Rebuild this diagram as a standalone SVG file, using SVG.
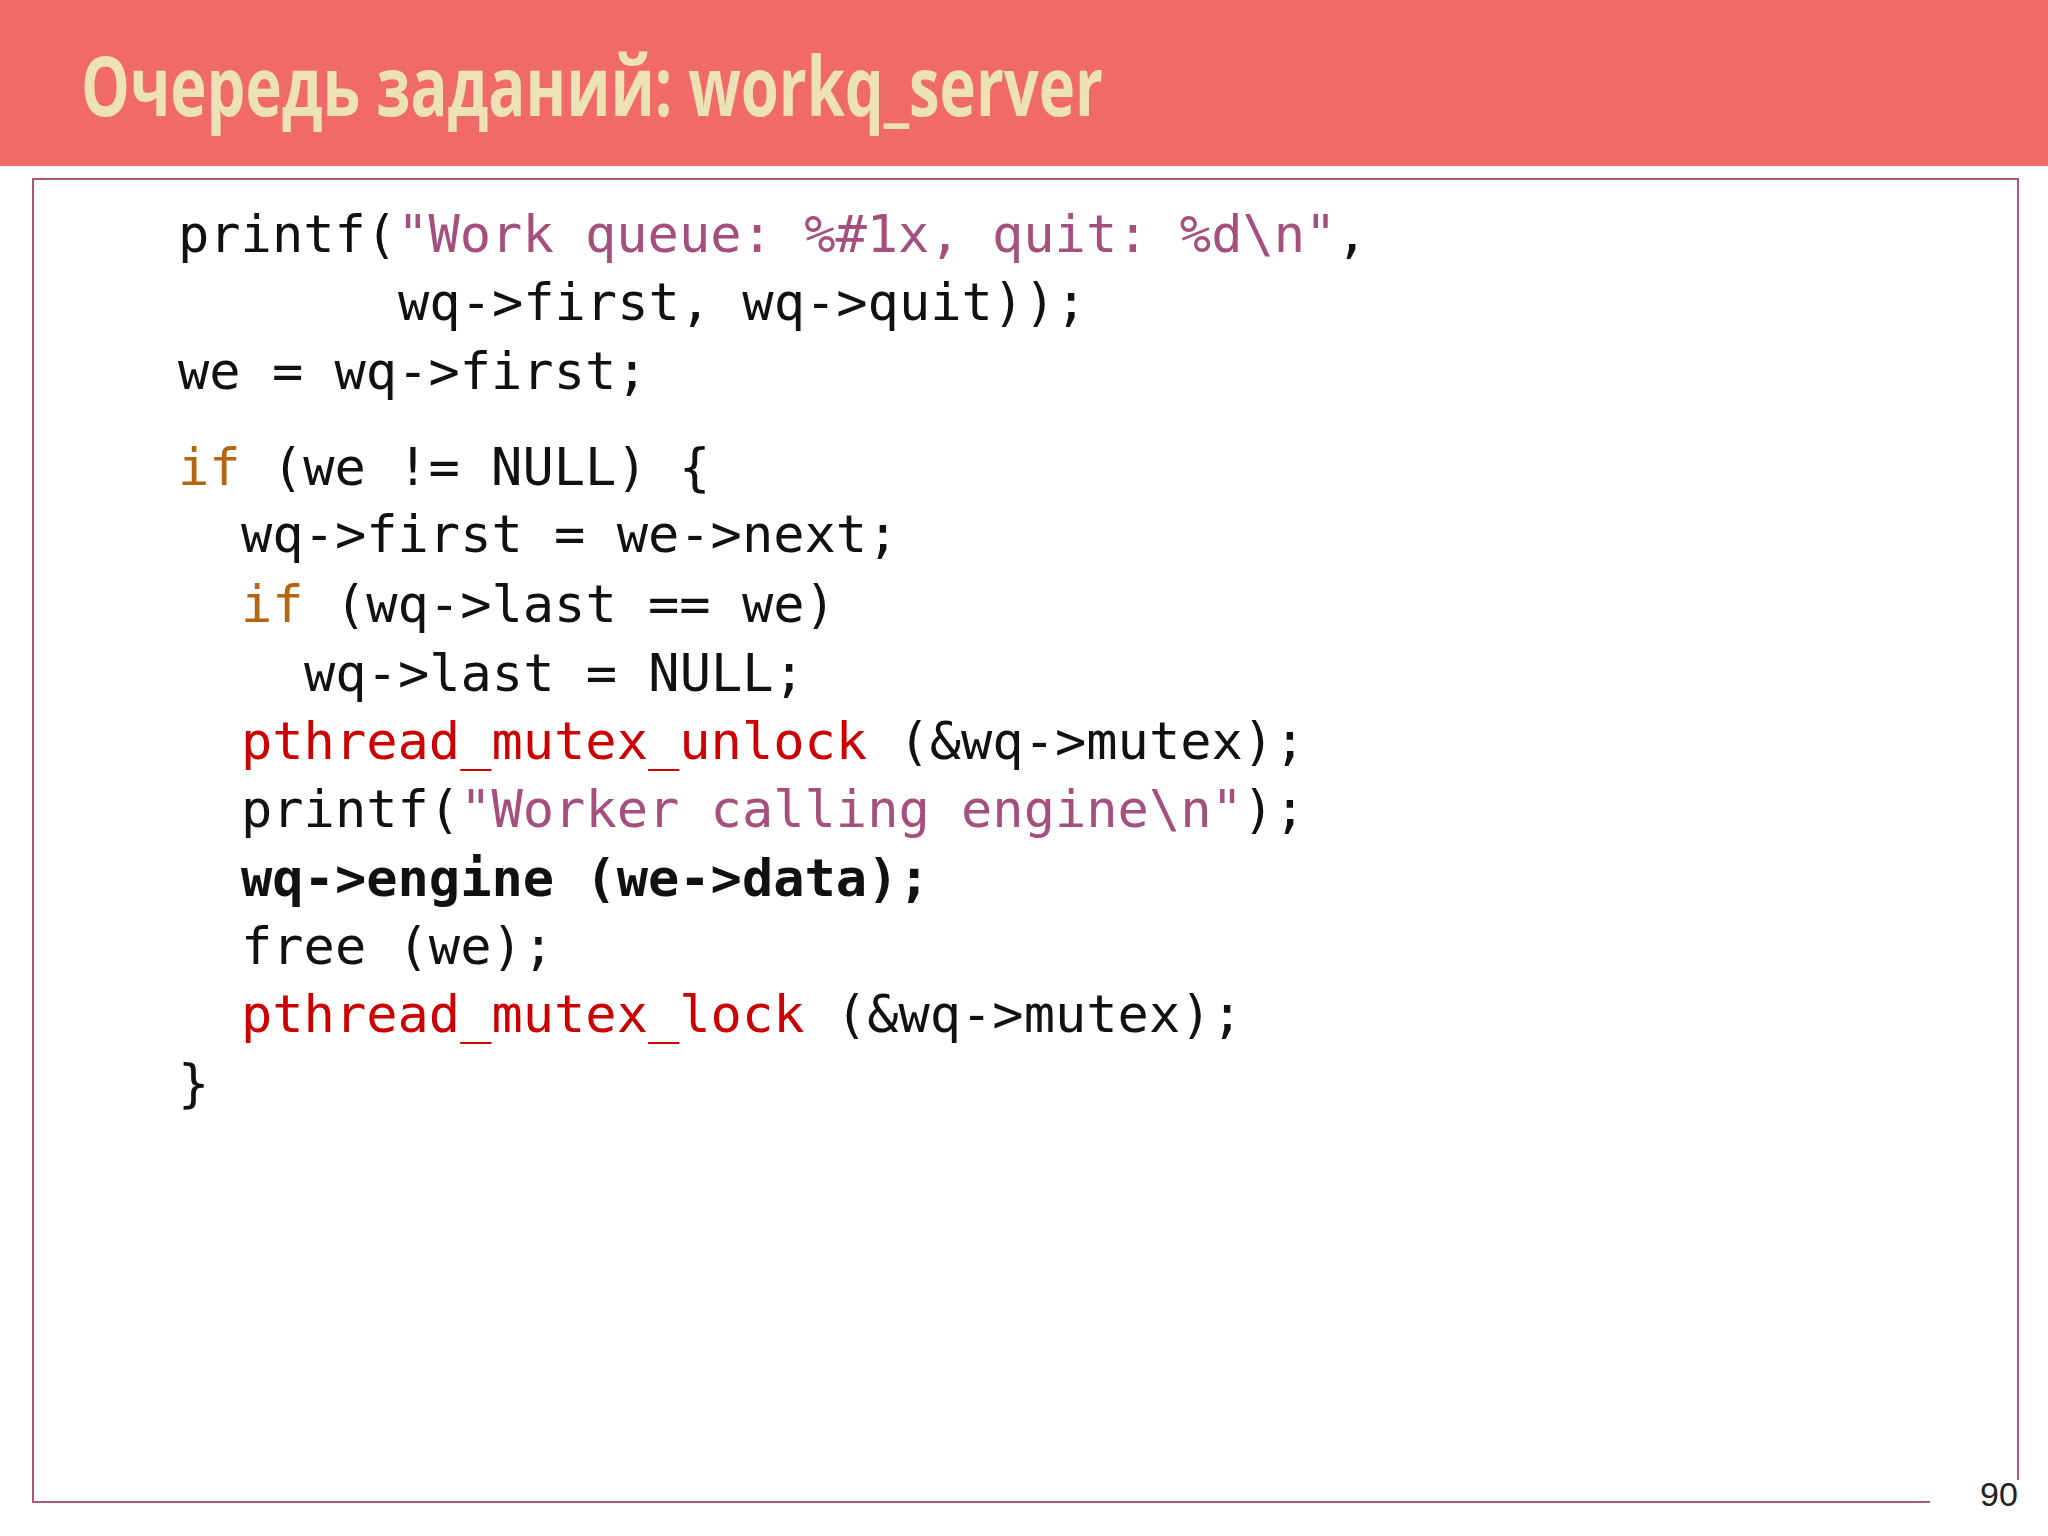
<svg xmlns="http://www.w3.org/2000/svg" width="2048" height="1536" viewBox="0 0 2048 1536">
<style>
.c{font-family:"DejaVu Sans Mono","Liberation Mono",monospace;font-size:52px;fill:#111;white-space:pre}
.s{fill:#a54f7e}.k{fill:#b5650f}.r{fill:#cc0000}.b{font-weight:bold}
</style>
<rect width="2048" height="1536" fill="#fff"/>
<g id="header"><rect x="0" y="0" width="2048" height="166" fill="#f06b68"/>
<text x="81" y="116" font-family="Ubuntu Condensed,'Open Sans','Liberation Sans',sans-serif" font-weight="bold" font-size="82" fill="#ece2b6" textLength="1022" lengthAdjust="spacingAndGlyphs">Очередь заданий: workq_server</text></g>
<g id="frame" fill="none" stroke="#b0557a" stroke-width="2">
<polyline points="1930,1502 33,1502 33,179 2018,179 2018,1480"/></g>
<text x="1980" y="1506" font-family="Liberation Sans,sans-serif" font-size="34" fill="#222">90</text>
<g id="code" class="c">
<text x="178" y="252" xml:space="preserve">printf(<tspan class="s">"Work queue: %#1x, quit: %d\n"</tspan>,</text>
<text x="398" y="320" xml:space="preserve">wq-&gt;first, wq-&gt;quit));</text>
<text x="178" y="389" xml:space="preserve">we = wq-&gt;first;</text>
<text x="178" y="485" xml:space="preserve"><tspan class="k">if</tspan> (we != NULL) {</text>
<text x="241" y="552" xml:space="preserve">wq-&gt;first = we-&gt;next;</text>
<text x="241" y="622" xml:space="preserve"><tspan class="k">if</tspan> (wq-&gt;last == we)</text>
<text x="304" y="691" xml:space="preserve">wq-&gt;last = NULL;</text>
<text x="241" y="759" xml:space="preserve"><tspan class="r">pthread_mutex_unlock</tspan> (&amp;wq-&gt;mutex);</text>
<text x="241" y="827" xml:space="preserve">printf(<tspan class="s">"Worker calling engine\n"</tspan>);</text>
<text x="241" y="896" class="c b" xml:space="preserve">wq-&gt;engine (we-&gt;data);</text>
<text x="241" y="964" xml:space="preserve">free (we);</text>
<text x="241" y="1032" xml:space="preserve"><tspan class="r">pthread_mutex_lock</tspan> (&amp;wq-&gt;mutex);</text>
<text x="178" y="1101" xml:space="preserve">}</text>
</g>
</svg>
